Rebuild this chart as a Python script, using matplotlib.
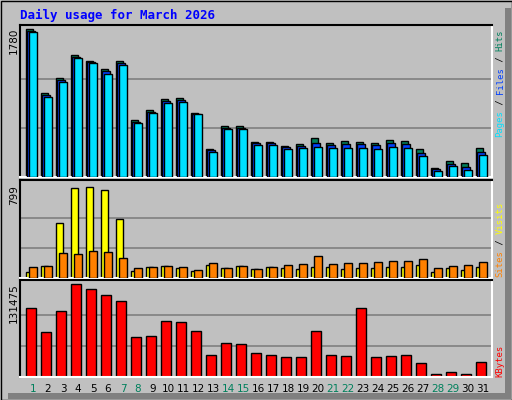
import matplotlib
matplotlib.use("Agg")
import matplotlib.pyplot as plt
from matplotlib.patches import Rectangle

days = list(range(1, 32))
hits = [1780,1012,1195,1475,1402,1304,1402,683,805,939,951,768,341,610,610,427,427,378,402,475,414,439,427,414,451,439,341,110,195,171,354]
files = [1760,990,1170,1450,1390,1280,1380,665,785,915,925,762,322,590,590,405,405,360,378,414,390,400,400,390,410,400,290,95,160,120,300]
pages = [1743,963,1146,1438,1377,1243,1353,646,768,890,902,756,305,573,573,390,390,341,354,366,354,354,354,341,366,354,256,73,134,85,268]
visits = [55,107,487,789,799,771,521,63,98,107,89,63,115,89,107,81,98,89,81,98,98,81,89,89,98,98,115,55,89,72,98]
sites = [98,107,219,210,236,228,176,89,98,107,98,72,133,89,107,81,98,115,124,193,124,133,133,141,150,150,167,89,107,115,141]
kbytes = [96800,63700,92500,131475,124100,115500,106900,56600,58000,79600,78100,65200,30700,47900,46500,33600,30700,27800,27800,65200,30700,29200,96800,27800,29200,30700,19200,4800,7700,4800,20600]
weekend = {1,7,8,14,15,21,22,28,29}

W, H = 512, 400
XL, XR = 0.133, 31.6
fig = plt.figure(figsize=(W/100, H/100), dpi=100)
fig.patch.set_facecolor('#C0C0C0')
bg = fig.add_axes([0, 0, 1, 1]); bg.set_xlim(0, W); bg.set_ylim(H, 0); bg.axis('off')
bg.add_patch(Rectangle((0.5, 0.5), W-1, H-1, fill=False, ec='black', lw=1))
bg.add_patch(Rectangle((W-7, 8), 6, H-9, fc='#808080', ec='none'))
bg.add_patch(Rectangle((8, H-7), W-9, 6, fc='#808080', ec='none'))

mono = 'DejaVu Sans Mono'
fig.text(20/W, 1-15/H, 'Daily usage for March 2026', color='#0000FF', family=mono,
         weight='bold', fontsize=9, va='center', ha='left')

def panel(top, bottom):
    ax = fig.add_axes([20/W, 1-bottom/H, 472/W, (bottom-top)/H])
    ax.set_facecolor('#C0C0C0')
    ax.set_xlim(XL, XR)
    for s in ('left', 'top'):
        ax.spines[s].set_color('black')
    for s in ('right', 'bottom'):
        ax.spines[s].set_color('white')
    for s in ax.spines.values():
        s.set_linewidth(1.5)
    ax.set_xticks([]); ax.set_yticks([])
    return ax

kw = dict(align='edge', edgecolor='black', linewidth=1)
ax1 = panel(25, 177)
ax1.set_ylim(0, max(hits) * 1.03)
for g in (max(hits)/3, 2*max(hits)/3):
    ax1.axhline(g, color='#808080', lw=1.2, zorder=0)
ax1.bar([d-0.5 for d in days], hits, width=0.5, color='#00805C', zorder=2, **kw)
ax1.bar([d-0.37 for d in days], files, width=0.5, color='#0040FF', zorder=3, **kw)
ax1.bar([d-0.24 for d in days], pages, width=0.5, color='#00E0FF', zorder=4, **kw)

ax2 = panel(180, 278)
ax2.set_ylim(0, max(visits)*1.08)
for g in (max(visits)/3, 2*max(visits)/3):
    ax2.axhline(g, color='#808080', lw=1.2, zorder=0)
ax2.bar([d-0.5 for d in days], visits, width=0.53, color='#FFFF00', zorder=2, **kw)
ax2.bar([d-0.24 for d in days], sites, width=0.5, color='#FF8000', zorder=3, **kw)

ax3 = panel(280, 377)
ax3.set_ylim(0, max(kbytes)*1.04)
for g in (max(kbytes)/3, 2*max(kbytes)/3):
    ax3.axhline(g, color='#808080', lw=1.2, zorder=0)
ax3.bar([d-0.45 for d in days], kbytes, width=0.65, color='#FF0000', zorder=2, **kw)

for d in days:
    x = 20 + (d - XL) / (XR - XL) * 472
    fig.text(x/W, 1-389/H, str(d), color='#00805C' if d in weekend else 'black',
             family='DejaVu Sans', fontsize=7.5, ha='center', va='center')

for txt, y in ((str(max(hits)), 28), (str(max(visits)), 185), (str(max(kbytes)), 283)):
    fig.text(14/W, 1-y/H, txt, rotation=90, family='DejaVu Sans', fontsize=7.5,
             ha='center', va='top')

CH = 5.35
def legend(parts, ybottom):
    y = ybottom
    for txt, col in parts:
        fig.text(500/W, 1-y/H, txt, rotation=90, color=col, family=mono,
                 fontsize=6.4, ha='center', va='bottom')
        y -= len(txt) * CH

legend([('Pages', '#00E0FF'), (' / ', 'black'), ('Files', '#0040FF'), (' / ', 'black'), ('Hits', '#00805C')], 137)
legend([('Sites', '#FF8000'), (' / ', 'black'), ('Visits', '#FFFF00')], 277)
legend([('KBytes', '#FF0000')], 377)

fig.savefig('out.png', dpi=100, facecolor=fig.get_facecolor())
